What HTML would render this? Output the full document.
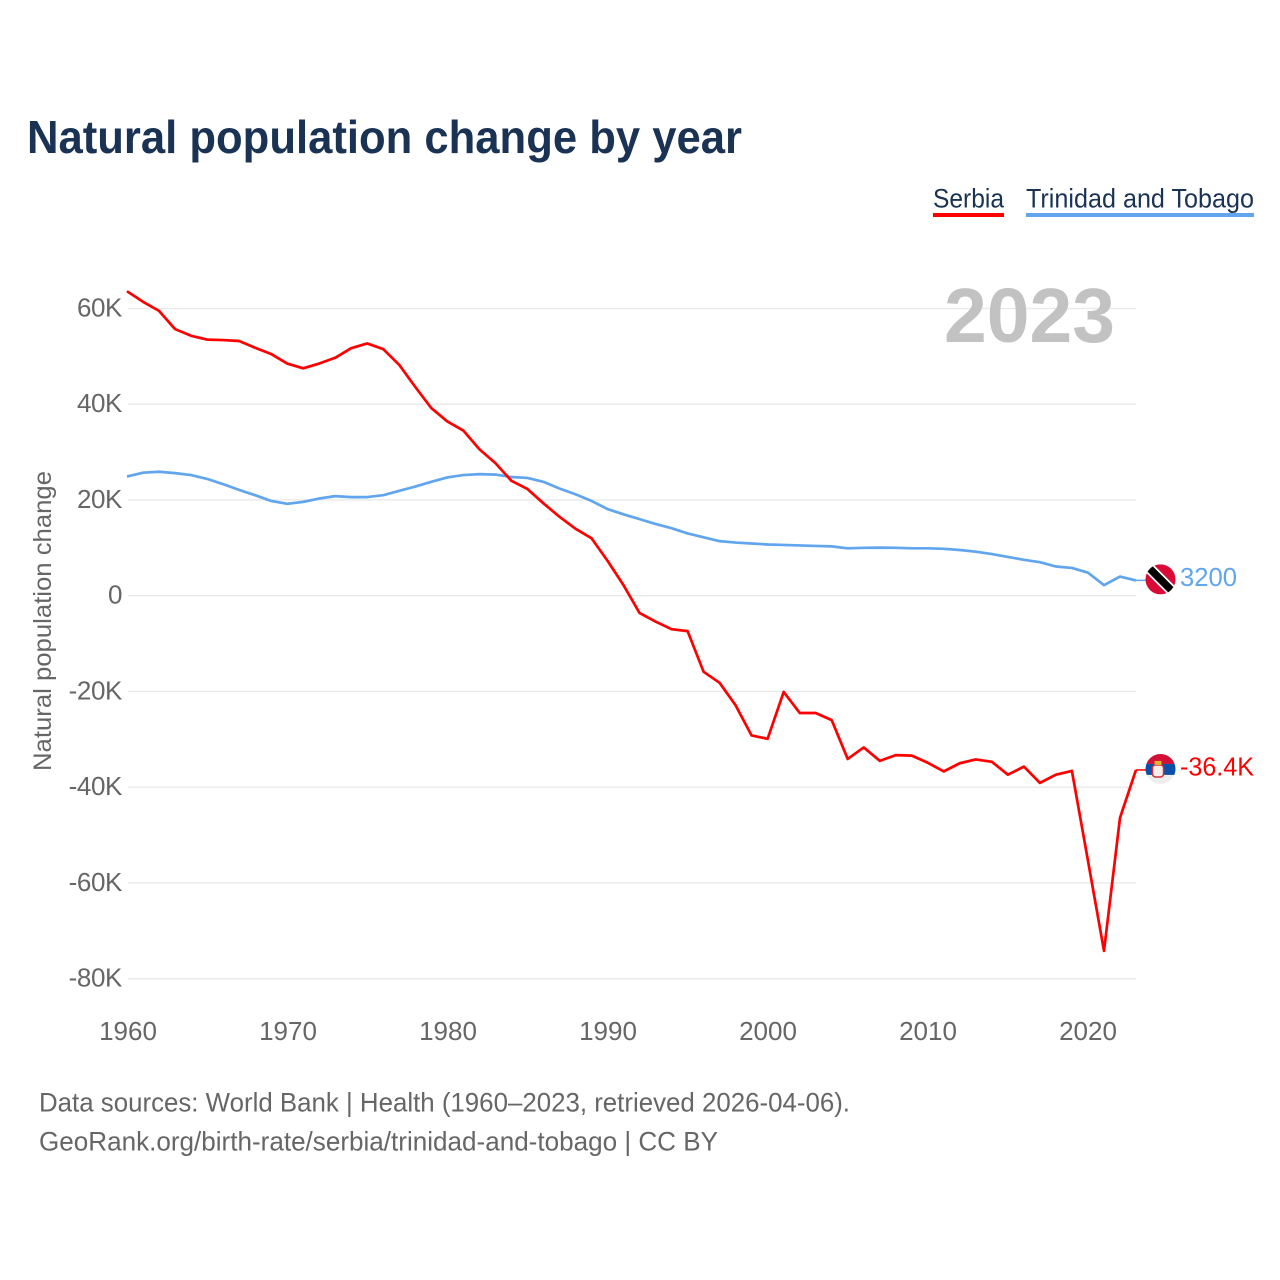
<!DOCTYPE html>
<html lang="en">
<head>
<meta charset="utf-8">
<title>Natural population change by year</title>
<style>
html,body{margin:0;padding:0;background:#fff;width:1280px;height:1280px;overflow:hidden}
svg{display:block}
text{font-family:"Liberation Sans",sans-serif}
</style>
</head>
<body>
<svg id="chart" xmlns="http://www.w3.org/2000/svg" width="1280" height="1280" viewBox="0 0 1280 1280">
  <rect width="1280" height="1280" fill="#ffffff"/>
  <text x="27" y="153" font-size="46" font-weight="700" fill="#1a3354" textLength="715" lengthAdjust="spacingAndGlyphs">Natural population change by year</text>

  <g>
    <text x="933" y="207.5" font-size="27" fill="#1a3354" textLength="71" lengthAdjust="spacingAndGlyphs">Serbia</text>
    <rect x="933" y="213" width="71" height="4" fill="#ff0000"/>
  </g>
  <g>
    <text x="1026" y="207.5" font-size="27" fill="#1a3354" textLength="228" lengthAdjust="spacingAndGlyphs">Trinidad and Tobago</text>
    <rect x="1026" y="213" width="228" height="4" fill="#60a5ee"/>
  </g>

  <g id="grid"></g>
  <g id="yticks"></g>
  <g id="xticks"></g>

  <text x="944" y="342" font-size="77" font-weight="700" fill="#c2c2c2" textLength="171" lengthAdjust="spacingAndGlyphs">2023</text>

  <text transform="translate(51,621) rotate(-90)" text-anchor="middle" font-size="25" fill="#666666" textLength="300" lengthAdjust="spacingAndGlyphs">Natural population change</text>

  <g id="series"></g>
  <g id="ends"></g>

  <text x="39" y="1111.5" font-size="27" fill="#666666" textLength="811" lengthAdjust="spacingAndGlyphs">Data sources: World Bank | Health (1960–2023, retrieved 2026-04-06).</text>
  <text x="39" y="1150.5" font-size="27" fill="#666666" textLength="679" lengthAdjust="spacingAndGlyphs">GeoRank.org/birth-rate/serbia/trinidad-and-tobago | CC BY</text>
</svg>
<script>
const startYear = 1960;
const serbiaValues = [63.6,61.4,59.5,55.7,54.3,53.5,53.4,53.2,51.8,50.5,48.5,47.5,48.5,49.7,51.7,52.7,51.5,48.2,43.6,39.2,36.4,34.5,30.6,27.7,24.0,22.3,19.3,16.5,14.0,12.0,7.3,2.2,-3.6,-5.4,-7.0,-7.4,-15.9,-18.2,-22.9,-29.2,-29.9,-20.1,-24.5,-24.5,-26.0,-34.1,-31.7,-34.5,-33.3,-33.4,-34.9,-36.7,-35.0,-34.2,-34.7,-37.4,-35.7,-39.1,-37.4,-36.6,-55.4,-74.2,-46.4,-36.4];
const trinidadValues = [24.9,25.7,25.9,25.6,25.2,24.4,23.3,22.1,21.0,19.8,19.2,19.6,20.3,20.8,20.6,20.6,21.0,21.9,22.8,23.8,24.7,25.2,25.4,25.3,24.8,24.6,23.8,22.4,21.2,19.8,18.1,17.0,16.0,15.0,14.1,13.0,12.2,11.4,11.1,10.9,10.7,10.6,10.5,10.4,10.3,9.9,10.0,10.05,10.0,9.9,9.9,9.8,9.55,9.2,8.7,8.1,7.5,7.0,6.1,5.8,4.8,2.2,4.0,3.2];
const yTickValues = [60,40,20,0,-20,-40,-60,-80];
const yTickLabels = ['60K','40K','20K','0','-20K','-40K','-60K','-80K'];
const xTickYears = [1960,1970,1980,1990,2000,2010,2020];
const serbiaEndLabel = '-36.4K';
const trinidadEndLabel = '3200';

const NS = 'http://www.w3.org/2000/svg';
const xScale = year => 128 + (year - 1960) * 16;
const seriesX = year => 127 + (year - 1960) * 16.016;
const yScale = k => 595.7 - k * 4.787;
function make(tag, attrs, parent) {
  const el = document.createElementNS(NS, tag);
  for (const key in attrs) el.setAttribute(key, attrs[key]);
  parent.appendChild(el);
  return el;
}

const grid = document.getElementById('grid');
const yticks = document.getElementById('yticks');
yTickValues.forEach((v, i) => {
  const line = make('line', {x1: 128, x2: 1136, y1: yScale(v), y2: yScale(v), stroke: '#e9e9e9', 'stroke-width': 1.4}, grid);
  
  
  const label = make('text', {x: 122, y: yScale(v) + 8, 'text-anchor': 'end', 'font-size': 26, 'letter-spacing': '-0.4', fill: '#666666'}, yticks);
  
  
  label.textContent = yTickLabels[i];
});

const xticks = document.getElementById('xticks');
xTickYears.forEach(year => {
  const label = make('text', {x: xScale(year), y: 1040, 'text-anchor': 'middle', 'font-size': 26, fill: '#666666'}, xticks);
  
  
  label.textContent = year;
});

const series = document.getElementById('series');
function linePoints(values) {
  return values.map((v, i) => seriesX(startYear + i).toFixed(1) + ',' + yScale(v).toFixed(2)).join(' ');
}
const trinidadLine = make('polyline', {points: linePoints(trinidadValues), fill: 'none', stroke: '#60a5ee', 'stroke-width': 2.7, 'stroke-linejoin': 'round'}, series);


const serbiaLine = make('polyline', {points: linePoints(serbiaValues), fill: 'none', stroke: '#ff0000', 'stroke-width': 2.7, 'stroke-linejoin': 'round'}, series);



const ends = document.getElementById('ends');
const lastYearX = seriesX(startYear + serbiaValues.length - 1);
const flagX = 1160.5;
const trinidadEndY = yScale(trinidadValues[trinidadValues.length - 1]);
const serbiaEndY = yScale(serbiaValues[serbiaValues.length - 1]);

const stubT = make('line', {x1: lastYearX, x2: flagX - 14, y1: trinidadEndY, y2: trinidadEndY, stroke: '#60a5ee', 'stroke-width': 1.5}, ends);


const stubS = make('line', {x1: lastYearX, x2: flagX - 14, y1: serbiaEndY, y2: serbiaEndY, stroke: '#ff0000', 'stroke-width': 1.5}, ends);



const defs = make('defs', {}, ends);
const clipT = make('clipPath', {id: 'clip-t'}, defs);
make('circle', {cx: 0, cy: 0, r: 15}, clipT);

const flagT = make('g', {transform: 'translate(' + flagX + ',' + (trinidadEndY - 1) + ')', 'clip-path': 'url(#clip-t)'}, ends);


make('rect', {x: -15, y: -15, width: 30, height: 30, fill: '#da0a36'}, flagT);
make('line', {x1: -15, y1: -15, x2: 15, y2: 15, stroke: '#ffffff', 'stroke-width': 11}, flagT);
make('line', {x1: -15, y1: -15, x2: 15, y2: 15, stroke: '#000000', 'stroke-width': 7.5}, flagT);

const flagS = make('g', {transform: 'translate(' + flagX + ',' + (serbiaEndY - 1) + ')', 'clip-path': 'url(#clip-t)'}, ends);


make('rect', {x: -15, y: -15, width: 30, height: 10, fill: '#d20f35'}, flagS);
make('rect', {x: -15, y: -5, width: 30, height: 11, fill: '#0a50a8'}, flagS);
make('rect', {x: -15, y: 6, width: 30, height: 9, fill: '#eeeeee'}, flagS);
make('rect', {x: -8, y: -4, width: 11, height: 12, rx: 3, fill: '#f6ece8', stroke: '#d0303c', 'stroke-width': 1.5}, flagS);
make('rect', {x: -6, y: -8, width: 7, height: 4, fill: '#e6b030'}, flagS);

const labelT = make('text', {x: 1180, y: trinidadEndY + 5.5, 'font-size': 26, fill: '#60a5ee', textLength: 57, lengthAdjust: 'spacingAndGlyphs'}, ends);


labelT.textContent = trinidadEndLabel;
const labelS = make('text', {x: 1180, y: serbiaEndY + 5.5, 'font-size': 26, fill: '#ff0000', textLength: 74, lengthAdjust: 'spacingAndGlyphs'}, ends);


labelS.textContent = serbiaEndLabel;
</script>
</body>
</html>
